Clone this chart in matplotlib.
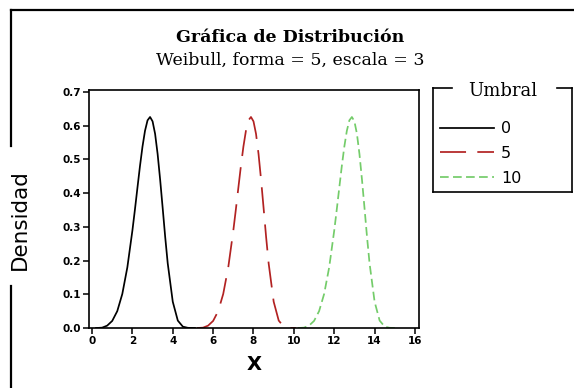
import matplotlib
matplotlib.use('Agg')
import matplotlib.pyplot as plt
from matplotlib.lines import Line2D
import numpy as np

# Weibull density (forma = 5, escala = 3)
base_x = [0.2, 0.5, 0.75, 1.0, 1.25, 1.5, 1.75, 2.0, 2.125, 2.25, 2.375, 2.5,
          2.625, 2.75, 2.875, 3.0, 3.125, 3.25, 3.375, 3.5, 3.625, 3.75, 4.0,
          4.25, 4.5, 4.75, 5.1]
density = [0.0, 0.001, 0.007, 0.021, 0.050, 0.101, 0.180, 0.289, 0.351, 0.416,
           0.480, 0.538, 0.585, 0.616, 0.626, 0.613, 0.576, 0.516, 0.440, 0.356,
           0.270, 0.192, 0.078, 0.022, 0.004, 0.0005, 0.0]
thresholds = [0, 5, 10]
labels = ['0', '5', '10']
colors = ['black', '#b22222', '#74cc6a']
dashes = [None, (15, 6.5), (5, 2.5)]

W, H = 574, 388
fig = plt.figure(figsize=(W / 100, H / 100), dpi=100)


def fx(px):
    return px / W


def fy(py):
    return 1 - py / H


ax = fig.add_axes([fx(89), fy(328), fx(419) - fx(89), fy(90) - fy(328)])

handles = []
for t, lab, c, d in zip(thresholds, labels, colors, dashes):
    xs = np.array(base_x) + t
    line, = ax.plot(xs, density, color=c, lw=1.25, label=lab)
    if d is not None:
        line.set_dashes(d)
    handles.append(line)

ax.set_xlim(-0.15, 16.2)
ax.set_ylim(0, 0.706)
ax.set_xticks(range(0, 17, 2))
ax.set_yticks([0.0, 0.1, 0.2, 0.3, 0.4, 0.5, 0.6, 0.7])
ax.set_yticklabels(['0.0', '0.1', '0.2', '0.3', '0.4', '0.5', '0.6', '0.7'])
ax.tick_params(direction='out', length=4, width=1.1, labelsize=7.5, pad=2)
for lbl in ax.get_xticklabels() + ax.get_yticklabels():
    lbl.set_fontweight('bold')
for s in ax.spines.values():
    s.set_linewidth(1.2)
ax.set_xlabel('X', fontsize=14, fontweight='bold', labelpad=6)

fig.text(0.505, fy(37), 'Gráfica de Distribución', ha='center', va='center',
         fontsize=12.5, fontweight='bold', family='DejaVu Serif')
fig.text(0.505, fy(60), 'Weibull, forma = 5, escala = 3', ha='center', va='center',
         fontsize=12.5, family='DejaVu Serif')
fig.text(fx(20), fy(220), 'Densidad', rotation=90, ha='center', va='center',
         fontsize=15.5, family='DejaVu Sans')

# outer frame with gap for the y label
frame = [((11, 10), (574, 10)), ((11, 10), (11, 146)), ((11, 286), (11, 388))]
for (x0, y0), (x1, y1) in frame:
    fig.add_artist(Line2D([fx(x0), fx(x1)], [fy(y0), fy(y1)], color='black', lw=1.6))

# legend box with gap for title
box = [((433, 88), (452, 88)), ((557, 88), (572, 88)), ((572, 88), (572, 192)),
       ((433, 192), (572, 192)), ((433, 88), (433, 192))]
for (x0, y0), (x1, y1) in box:
    fig.add_artist(Line2D([fx(x0), fx(x1)], [fy(y0), fy(y1)], color='black', lw=1.2))
fig.text(fx(503), fy(91), 'Umbral', ha='center', va='center', fontsize=13,
         family='DejaVu Serif')

leg = fig.legend(handles=handles, loc='upper left', bbox_to_anchor=(fx(429), fy(110)),
                 frameon=False, handlelength=3.4, handletextpad=0.4,
                 labelspacing=0.62, borderpad=0.2,
                 prop={'family': 'Liberation Sans Narrow', 'size': 11.5})

fig.savefig('out.png', dpi=100)
